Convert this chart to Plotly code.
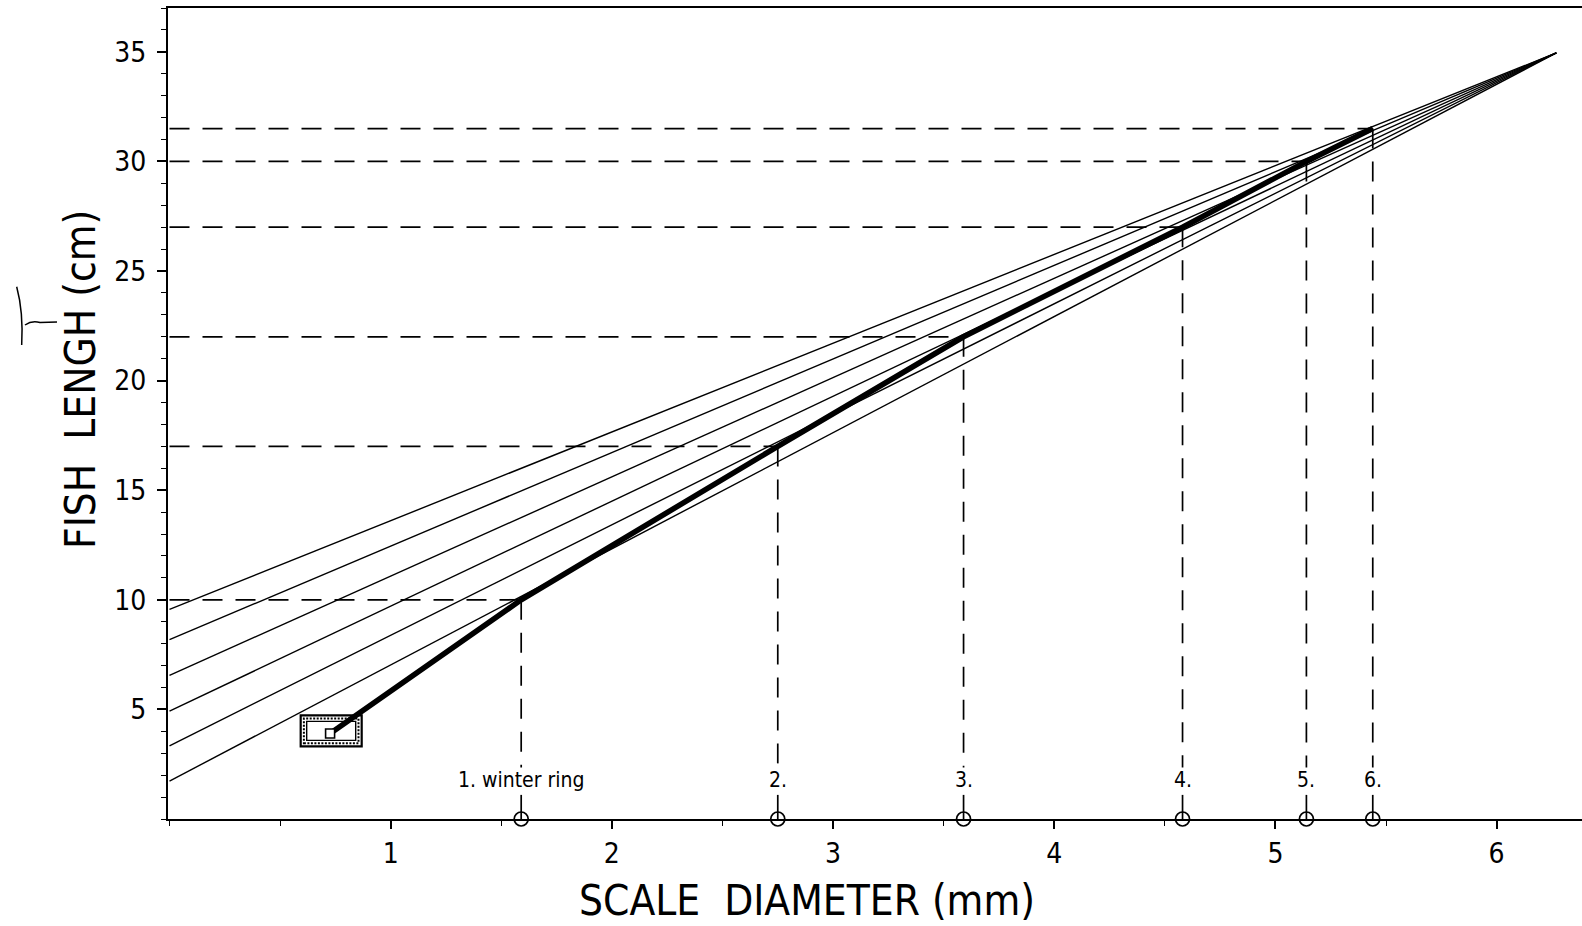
import plotly.graph_objects as go

# ---------------- data ----------------
ring_labels = ["1. winter ring", "2.", "3.", "4.", "5.", "6."]
ring_scale_mm = [1.59, 2.75, 3.59, 4.58, 5.14, 5.44]
ring_length_cm = [10, 17, 22, 27, 30, 31.5]

start_scale_mm = 0.726      # small square inside the box (start of the growth curve)
start_length_cm = 3.90

fan_intercepts_cm = [9.56, 8.18, 6.55, 4.92, 3.34, 1.73]   # thin lines at scale = 0
fan_apex_scale_mm = 6.27
fan_apex_length_cm = 34.95

x_ticks = [1, 2, 3, 4, 5, 6]
y_ticks = [5, 10, 15, 20, 25, 30, 35]

# ---------------- layout constants ----------------
W, H = 1582, 926
L, R, T, B = 168, 0, 8, 107
X_RANGE = [-0.0068, 6.386]
Y_RANGE = [0, 37.0]
PX_X = (W - L - R) / (X_RANGE[1] - X_RANGE[0])
PX_Y = (H - T - B) / (Y_RANGE[1] - Y_RANGE[0])

TICK_FONT = "Liberation Sans Narrow, DejaVu Sans Condensed, Arial Narrow, sans-serif"
TITLE_FONT = "DejaVu Sans Condensed, Liberation Sans Narrow, sans-serif"
DASH = "20px,13px"

def paper(px, py):
    return (px - L) / (W - L - R), (H - B - py) / (H - T - B)

fig = go.Figure()

# thin fan lines
for a in fan_intercepts_cm:
    fig.add_trace(go.Scatter(x=[0, fan_apex_scale_mm], y=[a, fan_apex_length_cm],
                             mode="lines", line=dict(color="black", width=1.4),
                             hoverinfo="skip", showlegend=False))

# horizontal dashed lines from axis to the curve
for xs, ys in zip(ring_scale_mm, ring_length_cm):
    fig.add_trace(go.Scatter(x=[0, xs], y=[ys, ys], mode="lines",
                             line=dict(color="black", width=1.7, dash=DASH),
                             hoverinfo="skip", showlegend=False))

# vertical dashed lines down to the labels, short stub to the circle
LABEL_Y = 1.77
DASH_BOTTOM = 2.35
STUB_TOP = 1.1
for xs, ys in zip(ring_scale_mm, ring_length_cm):
    fig.add_trace(go.Scatter(x=[xs, xs], y=[ys, DASH_BOTTOM], mode="lines",
                             line=dict(color="black", width=1.7, dash=DASH),
                             hoverinfo="skip", showlegend=False))
    fig.add_trace(go.Scatter(x=[xs, xs], y=[STUB_TOP, 0], mode="lines",
                             line=dict(color="black", width=1.7),
                             hoverinfo="skip", showlegend=False))

# circles on the axis
fig.add_trace(go.Scatter(x=ring_scale_mm, y=[0] * len(ring_scale_mm), mode="markers",
                         marker=dict(symbol="circle-open", size=14, color="black",
                                     line=dict(width=1.7, color="black")),
                         cliponaxis=False, hoverinfo="skip", showlegend=False))

# thick growth curve
fig.add_trace(go.Scatter(x=[start_scale_mm] + ring_scale_mm,
                         y=[start_length_cm] + ring_length_cm,
                         mode="lines", line=dict(color="black", width=5.5),
                         hoverinfo="skip", showlegend=False))

# small square at the start
fig.add_trace(go.Scatter(x=[start_scale_mm], y=[start_length_cm], mode="markers",
                         marker=dict(symbol="square", size=9, color="white",
                                     line=dict(width=1.6, color="black")),
                         hoverinfo="skip", showlegend=False))

# ring labels
for lab, xs in zip(ring_labels, ring_scale_mm):
    fig.add_annotation(x=xs, y=LABEL_Y, text=lab, showarrow=False,
                       font=dict(family=TITLE_FONT, size=21, color="black"),
                       xanchor="center", yanchor="middle")

# box around the start (outer, zig-zag band, inner)
bx, by = 0.731, 4.02
hw, hh = 30.5, 15.5
def rect(inset, **kw):
    fig.add_shape(type="rect", xref="x", yref="y", layer="below",
                  x0=bx - (hw - inset) / PX_X, x1=bx + (hw - inset) / PX_X,
                  y0=by - (hh - inset) / PX_Y, y1=by + (hh - inset) / PX_Y, **kw)
rect(0, line=dict(color="black", width=2.2), fillcolor="white")
rect(3.2, line=dict(color="black", width=2, dash="2px,1.5px"))
rect(6, line=dict(color="black", width=1.4))

# handwritten correction mark "T" next to the y title
p = [paper(*pt) for pt in [(16.7, 286.7), (23.5, 312.0), (21.7, 345.0)]]
fig.add_shape(type="path", xref="paper", yref="paper", layer="above",
              path=f"M {p[0][0]},{p[0][1]} Q {p[1][0]},{p[1][1]} {p[2][0]},{p[2][1]}",
              line=dict(color="black", width=1.5))
q = [paper(*pt) for pt in [(25.0, 325.0), (32.0, 320.0), (40.0, 322.5), (57.0, 322.0)]]
fig.add_shape(type="path", xref="paper", yref="paper", layer="above",
              path=f"M {q[0][0]},{q[0][1]} Q {q[1][0]},{q[1][1]} {q[2][0]},{q[2][1]} L {q[3][0]},{q[3][1]}",
              line=dict(color="black", width=1.5))

# axis titles
tx, ty = paper(807, 901)
fig.add_annotation(xref="paper", yref="paper", x=tx, y=ty, text="SCALE  DIAMETER (mm)",
                   showarrow=False, xanchor="center", yanchor="middle",
                   font=dict(family=TITLE_FONT, size=42, color="black"))
tx, ty = paper(80, 380)
fig.add_annotation(xref="paper", yref="paper", x=tx, y=ty, text="FISH  LENGH (cm)",
                   showarrow=False, xanchor="center", yanchor="middle", textangle=-90,
                   font=dict(family=TITLE_FONT, size=42, color="black"))

fig.update_layout(
    width=W, height=H, autosize=False,
    margin=dict(l=L, r=R, t=T, b=B, pad=0),
    paper_bgcolor="white", plot_bgcolor="white",
    showlegend=False,
    xaxis=dict(range=X_RANGE, showgrid=False, zeroline=False,
               showline=True, linecolor="black", linewidth=2, mirror=True,
               tickmode="array", tickvals=x_ticks, ticktext=[str(v) for v in x_ticks],
               ticks="outside", ticklen=8, tickwidth=1.6, tickcolor="black",
               ticklabelstandoff=0,
               tickfont=dict(family=TICK_FONT, size=28, color="black"),
               minor=dict(tickmode="linear", tick0=0, dtick=0.5, ticks="outside",
                          ticklen=5, tickwidth=1.4, tickcolor="black", showgrid=False)),
    yaxis=dict(range=Y_RANGE, showgrid=False, zeroline=False,
               showline=True, linecolor="black", linewidth=2, mirror=False,
               tickmode="array", tickvals=y_ticks, ticktext=[str(v) for v in y_ticks],
               ticks="outside", ticklen=9, tickwidth=1.6, tickcolor="black",
               ticklabelstandoff=5,
               tickfont=dict(family=TICK_FONT, size=28, color="black"),
               minor=dict(tickmode="linear", tick0=0, dtick=1, ticks="outside",
                          ticklen=5, tickwidth=1.4, tickcolor="black", showgrid=False)),
)

fig.write_html("out.html")
